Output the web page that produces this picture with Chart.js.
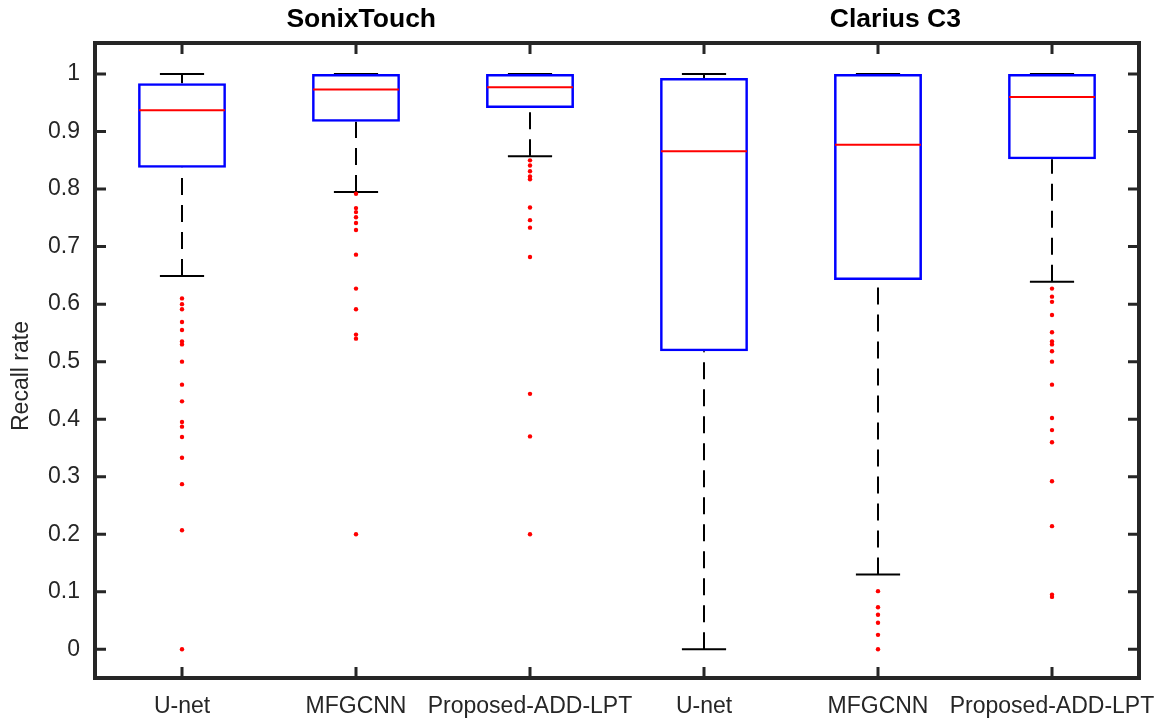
<!DOCTYPE html>
<html>
<head>
<meta charset="utf-8">
<script src="https://cdn.jsdelivr.net/npm/chart.js@4.4.1/dist/chart.umd.min.js"></script>
<style>
  html, body { margin: 0; padding: 0; background: #fff; }
  #wrap { width: 1163px; height: 719px; }
</style>
</head>
<body>
<div id="wrap"><canvas id="chart" width="1163" height="719"></canvas></div>
<script>
// categories: two devices, three methods each
const devices = ['SonixTouch', 'Clarius C3'];
const methods = ['U-net', 'MFGCNN', 'Proposed-ADD-LPT'];
const categories = devices.flatMap(d => methods.map(m => d + ' / ' + m));
const yTitle = 'Recall rate';

// box statistics
const whiskerLow  = [0.649, 0.795, 0.857, 0.000, 0.130, 0.639];
const q1          = [0.837, 0.917, 0.941, 0.518, 0.642, 0.852];
const median      = [0.937, 0.973, 0.977, 0.866, 0.877, 0.960];
const q3          = [0.984, 1.000, 1.000, 0.993, 1.000, 1.000];
const whiskerHigh = [1.000, 1.000, 1.000, 1.000, 1.000, 1.000];

// outliers per box
const outSonixUnet   = [0.610, 0.600, 0.591, 0.569, 0.555, 0.535, 0.530, 0.500, 0.460, 0.431, 0.395, 0.387, 0.369, 0.333, 0.287, 0.207, 0.000];
const outSonixMfg    = [0.792, 0.767, 0.760, 0.751, 0.741, 0.729, 0.686, 0.627, 0.591, 0.547, 0.540, 0.200];
const outSonixProp   = [0.850, 0.841, 0.831, 0.822, 0.817, 0.768, 0.746, 0.733, 0.682, 0.444, 0.370, 0.200];
const outClariusUnet = [];
const outClariusMfg  = [0.101, 0.073, 0.060, 0.046, 0.025, 0.000];
const outClariusProp = [0.627, 0.613, 0.604, 0.581, 0.551, 0.535, 0.530, 0.518, 0.500, 0.460, 0.402, 0.381, 0.360, 0.292, 0.214, 0.095, 0.091];

const yTicks = [0, 0.1, 0.2, 0.3, 0.4, 0.5, 0.6, 0.7, 0.8, 0.9, 1];

const outliers = [outSonixUnet, outSonixMfg, outSonixProp, outClariusUnet, outClariusMfg, outClariusProp];
const outlierPoints = outliers.flatMap((arr, i) => arr.map(v => ({ x: categories[i], y: v })));

const FRAME = '#262626';
const BOX_PCT = 0.505;
const FONT = '"Liberation Sans", Arial, sans-serif';

// whiskers, caps and medians drawn through the scales
const boxParts = {
  id: 'boxParts',
  beforeDatasetsDraw(chart) {
    const { ctx, scales: { x, y } } = chart;
    const catW = x.getPixelForValue(1) - x.getPixelForValue(0);
    const capHalf = catW * 0.127;
    ctx.save();
    ctx.strokeStyle = '#000';
    ctx.lineWidth = 2;
    categories.forEach((_, i) => {
      const cx = x.getPixelForValue(i);
      ctx.setLineDash([17, 10]);
      ctx.beginPath();
      ctx.moveTo(cx, y.getPixelForValue(whiskerLow[i]));
      ctx.lineTo(cx, y.getPixelForValue(q1[i]));
      ctx.moveTo(cx, y.getPixelForValue(whiskerHigh[i]));
      ctx.lineTo(cx, y.getPixelForValue(q3[i]));
      ctx.stroke();
      ctx.setLineDash([]);
      ctx.beginPath();
      [whiskerLow[i], whiskerHigh[i]].forEach(v => {
        const py = y.getPixelForValue(v);
        ctx.moveTo(cx - capHalf, py);
        ctx.lineTo(cx + capHalf, py);
      });
      ctx.stroke();
    });
    ctx.restore();
  },
  afterDatasetsDraw(chart) {
    const { ctx, scales: { x, y } } = chart;
    const catW = x.getPixelForValue(1) - x.getPixelForValue(0);
    const half = catW * BOX_PCT / 2;
    ctx.save();
    ctx.strokeStyle = '#ff0000';
    ctx.lineWidth = 2;
    categories.forEach((_, i) => {
      const cx = x.getPixelForValue(i);
      const py = y.getPixelForValue(median[i]);
      ctx.beginPath();
      ctx.moveTo(cx - half + 1, py);
      ctx.lineTo(cx + half - 1, py);
      ctx.stroke();
    });
    ctx.restore();
  }
};

// box frame with inward ticks, group titles and the y label
const frame = {
  id: 'frame',
  afterDraw(chart) {
    const { ctx, chartArea: a, scales: { x, y } } = chart;
    ctx.save();
    ctx.strokeStyle = FRAME;
    ctx.lineWidth = 3;
    ctx.beginPath();
    yTicks.forEach(v => {
      const py = y.getPixelForValue(v);
      ctx.moveTo(a.left, py); ctx.lineTo(a.left + 11, py);
      ctx.moveTo(a.right, py); ctx.lineTo(a.right - 11, py);
    });
    categories.forEach((_, i) => {
      const px = x.getPixelForValue(i);
      ctx.moveTo(px, a.bottom); ctx.lineTo(px, a.bottom - 11);
      ctx.moveTo(px, a.top); ctx.lineTo(px, a.top + 11);
    });
    ctx.stroke();
    ctx.lineWidth = 4;
    ctx.strokeRect(a.left, a.top, a.right - a.left, a.bottom - a.top);

    ctx.fillStyle = '#000';
    ctx.font = 'bold 26.5px ' + FONT;
    ctx.textAlign = 'center';
    ctx.textBaseline = 'alphabetic';
    ctx.fillText(devices[0], x.getPixelForValue(1.03), 27);
    ctx.fillText(devices[1], x.getPixelForValue(4.1), 27);

    ctx.fillStyle = FRAME;
    ctx.font = '23px ' + FONT;
    ctx.textBaseline = 'middle';
    ctx.translate(22, y.getPixelForValue(0.475));
    ctx.rotate(-Math.PI / 2);
    ctx.fillText(yTitle, 0, 0);
    ctx.restore();
  }
};

new Chart(document.getElementById('chart'), {
  data: {
    labels: categories,
    datasets: [
      {
        type: 'bar',
        data: q1.map((v, i) => [v, q3[i]]),
        backgroundColor: 'rgba(0,0,0,0)',
        borderColor: '#0000ff',
        borderWidth: 2.5,
        borderSkipped: false,
        barPercentage: BOX_PCT,
        categoryPercentage: 1,
        grouped: false,
        order: 2
      },
      {
        type: 'scatter',
        data: outlierPoints,
        pointRadius: 2.2,
        pointBackgroundColor: '#ff0000',
        pointBorderWidth: 0,
        showLine: false,
        order: 1
      }
    ]
  },
  options: {
    responsive: false,
    animation: false,
    layout: { padding: { top: 43, right: 24, bottom: 0, left: 0 } },
    plugins: { legend: { display: false }, tooltip: { enabled: false } },
    scales: {
      x: {
        type: 'category',
        offset: true,
        grid: { display: false, drawTicks: false },
        border: { display: false },
        ticks: { color: FRAME, padding: 15, maxRotation: 0, autoSkip: false,
                 callback: (v, i) => methods[i % methods.length],
                 font: { family: FONT, size: 23 } },
        afterFit: s => { s.height = 41; s.paddingLeft = 0; s.paddingRight = 0; }
      },
      y: {
        min: -0.05,
        max: 1.054,
        grid: { display: false, drawTicks: false },
        border: { display: false },
        afterBuildTicks: s => { s.ticks = yTicks.map(v => ({ value: v })); },
        ticks: { color: FRAME, padding: 15,
                 callback: v => String(+v.toFixed(1)),
                 font: { family: FONT, size: 23 } },
        afterFit: s => { s.width = 95; s.paddingTop = 0; s.paddingBottom = 0; }
      }
    }
  },
  plugins: [boxParts, frame]
});
</script>
</body>
</html>
